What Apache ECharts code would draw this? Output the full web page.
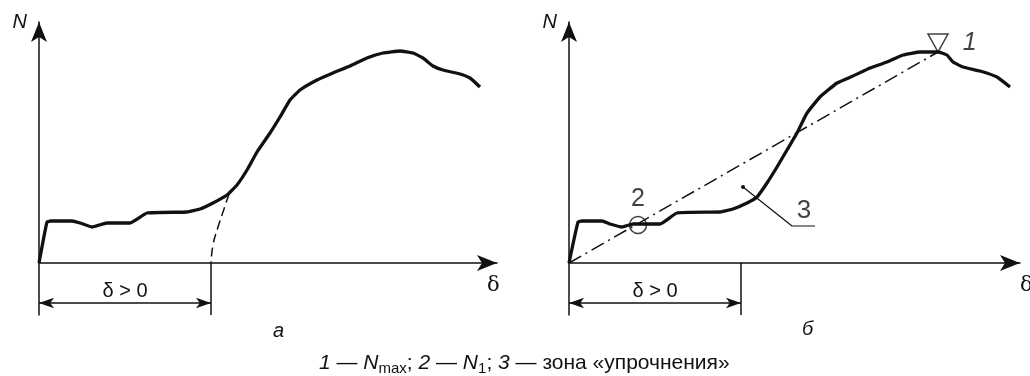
<!DOCTYPE html>
<html>
<head>
<meta charset="utf-8">
<style>
  html, body { margin: 0; padding: 0; background: #fff; }
  #main { width: 1030px; height: 376px; }
</style>
<script src="https://cdn.jsdelivr.net/npm/echarts@6/dist/echarts.min.js"></script>
</head>
<body>
<div id="main"></div>
<script>
// δ (horizontal) and N (vertical), arbitrary units
var leftCurve = [[0,0],[8,41],[12,42],[33,42],[41,40],[53,36],[68,40],[91,40],[108,50],[148,51],[161,54],
    [174,60],[188,68],[198,78],[208,93],[218,111],[231,130],[241,146],[251,163],[261,173],[278,183],
    [294,190],[311,197],[328,205],[344,210],[361,212],[374,210],[384,205],[394,197],[404,193],
    [421,189],[431,185],[441,176]];
var leftArc = [[190,69],[185,54],[179,36],[174,18],[172,0]];

var rightCurve = [[0,0],[9,41],[13,42],[33,42],[41,39],[53,36],[64,39],[91,39],[108,50],[151,51],[164,54],
    [178,60],[188,66],[198,80],[208,96],[218,113],[228,130],[238,150],[251,166],[268,180],[284,187],
    [301,195],[318,201],[334,208],[351,211],[369,211],[378,208],[384,201],[394,196],[411,192],
    [428,186],[441,176]];
var secant = [[0,0],[369,211]];
var nMax = [369, 211];
var n1 = [69, 38];
var zoneLeader = [[174,76],[223,37],[246,37]];
var zoneLabelAt = [235, 37];

var deltaZero = 172;   // end of the δ > 0 span
var dimLevel = -40;    // level of the dimension arrow
var dimBottom = -52;   // bottom of the extension lines
var nTop = 241;

var ink = '#111';
var font = 'Liberation Sans, Arial, sans-serif';

var myChart = echarts.init(document.getElementById('main'));

var makeAxes = function(idx, xMax) {
    var axisLine = {
        show: true,
        onZero: true,
        symbol: ['none', 'arrow'],
        symbolSize: [12, 20],
        lineStyle: { color: ink, width: 1.5 }
    };
    return {
        x: {
            type: 'value', gridIndex: idx, min: 0, max: xMax,
            axisLine: axisLine, axisTick: { show: false }, axisLabel: { show: false },
            splitLine: { show: false }
        },
        y: {
            type: 'value', gridIndex: idx, min: dimBottom, max: nTop,
            axisLine: axisLine, axisTick: { show: false }, axisLabel: { show: false },
            splitLine: { show: false },
            name: 'N', nameLocation: 'end', nameGap: 0,
            nameTextStyle: { color: ink, fontFamily: font, fontStyle: 'italic', fontSize: 20,
                align: 'right', verticalAlign: 'middle', padding: [0, 12, 0, 0] }
        }
    };
};

var dimension = function(idx) {
    return {
        type: 'line', xAxisIndex: idx, yAxisIndex: idx,
        data: [[deltaZero, 0], [deltaZero, dimBottom]],
        symbol: 'none',
        lineStyle: { color: ink, width: 1.5 },
        markLine: {
            silent: true,
            symbol: ['arrow', 'arrow'],
            symbolSize: [8, 15],
            lineStyle: { color: ink, width: 1.5, type: 'solid' },
            label: { show: true, position: 'insideMiddleTop', distance: 2, formatter: 'δ > 0',
                color: ink, fontFamily: font, fontSize: 20 },
            data: [[{ coord: [0, dimLevel] }, { coord: [deltaZero, dimLevel] }]]
        }
    };
};

var curve = function(idx, data) {
    return {
        type: 'line', xAxisIndex: idx, yAxisIndex: idx,
        data: data, symbol: 'none', smooth: 0.12,
        lineStyle: { color: ink, width: 3.3 }
    };
};

var plainText = function(text, left, top, italic) {
    return {
        text: text, left: left, top: top,
        textStyle: { color: ink, fontFamily: font, fontStyle: italic ? 'italic' : 'normal',
            fontWeight: 'normal', fontSize: 20 }
    };
};

var left = makeAxes(0, 458);
var right = makeAxes(1, 451);

var option = {
    animation: false,
    backgroundColor: '#fff',
    grid: [
        { left: 39, top: 22, width: 458, height: 293 },
        { left: 569, top: 22, width: 451, height: 293 }
    ],
    xAxis: [left.x, right.x],
    yAxis: [left.y, right.y],
    title: [
        plainText('а', 268, 316, true),
        plainText('б', 797, 314, true),
        {
            text: 'δ', left: 482, top: 270,
            textStyle: { color: ink, fontFamily: 'DejaVu Serif, serif', fontWeight: 'normal', fontSize: 21 }
        },
        {
            text: 'δ', left: 1015, top: 270,
            textStyle: { color: ink, fontFamily: 'DejaVu Serif, serif', fontWeight: 'normal', fontSize: 21 }
        },
        {
            text: '{i|1} — {i|N}{sub|max}; {i|2} — {i|N}{sub|1}; {i|3} — зона «упрочнения»',
            left: 314, top: 346,
            textStyle: {
                color: ink, fontFamily: font, fontWeight: 'normal', fontSize: 21, lineHeight: 24,
                rich: {
                    i: { fontStyle: 'italic', fontFamily: font, fontSize: 21, lineHeight: 24, color: ink },
                    sub: { fontFamily: font, fontSize: 15, lineHeight: 15, padding: [11, 0, 0, 0], color: ink }
                }
            }
        }
    ],
    series: [
        curve(0, leftCurve),
        {
            type: 'line', xAxisIndex: 0, yAxisIndex: 0,
            data: leftArc, symbol: 'none', smooth: 0.5,
            lineStyle: { color: ink, width: 1.5, type: [9, 5] }
        },
        dimension(0),

        curve(1, rightCurve),
        {
            type: 'line', xAxisIndex: 1, yAxisIndex: 1,
            data: secant, symbol: 'none',
            lineStyle: { color: ink, width: 1.5, type: [14, 5, 2, 5] }
        },
        dimension(1),
        {
            type: 'scatter', xAxisIndex: 1, yAxisIndex: 1,
            data: [n1],
            symbol: 'circle', symbolSize: 17,
            itemStyle: { color: 'rgba(0,0,0,0)', borderColor: ink, borderWidth: 1.5 },
            label: { show: true, position: 'top', distance: 4, formatter: '2',
                color: ink, fontFamily: font, fontSize: 25 }
        },
        {
            type: 'scatter', xAxisIndex: 1, yAxisIndex: 1,
            data: [nMax],
            symbol: 'triangle', symbolSize: [20, 18], symbolRotate: 180, symbolOffset: [0, -9],
            itemStyle: { color: 'rgba(0,0,0,0)', borderColor: ink, borderWidth: 1.5 },
            label: { show: true, position: 'right', distance: 14, formatter: '1',
                color: ink, fontFamily: font, fontStyle: 'italic', fontSize: 25 }
        },
        {
            type: 'line', xAxisIndex: 1, yAxisIndex: 1,
            symbol: 'none',
            lineStyle: { color: ink, width: 1.2 },
            data: zoneLeader.map(function(p, i) {
                if (i == 0) {
                    return { value: p, symbol: 'circle', symbolSize: 4, itemStyle: { color: ink } };
                }
                return p;
            })
        },
        {
            type: 'scatter', xAxisIndex: 1, yAxisIndex: 1,
            data: [zoneLabelAt],
            symbol: 'circle', symbolSize: 1,
            itemStyle: { color: 'rgba(0,0,0,0)' },
            label: { show: true, position: 'top', distance: 2, formatter: '3',
                color: ink, fontFamily: font, fontSize: 26 }
        }
    ]
};

myChart.setOption(option);
</script>
</body>
</html>
